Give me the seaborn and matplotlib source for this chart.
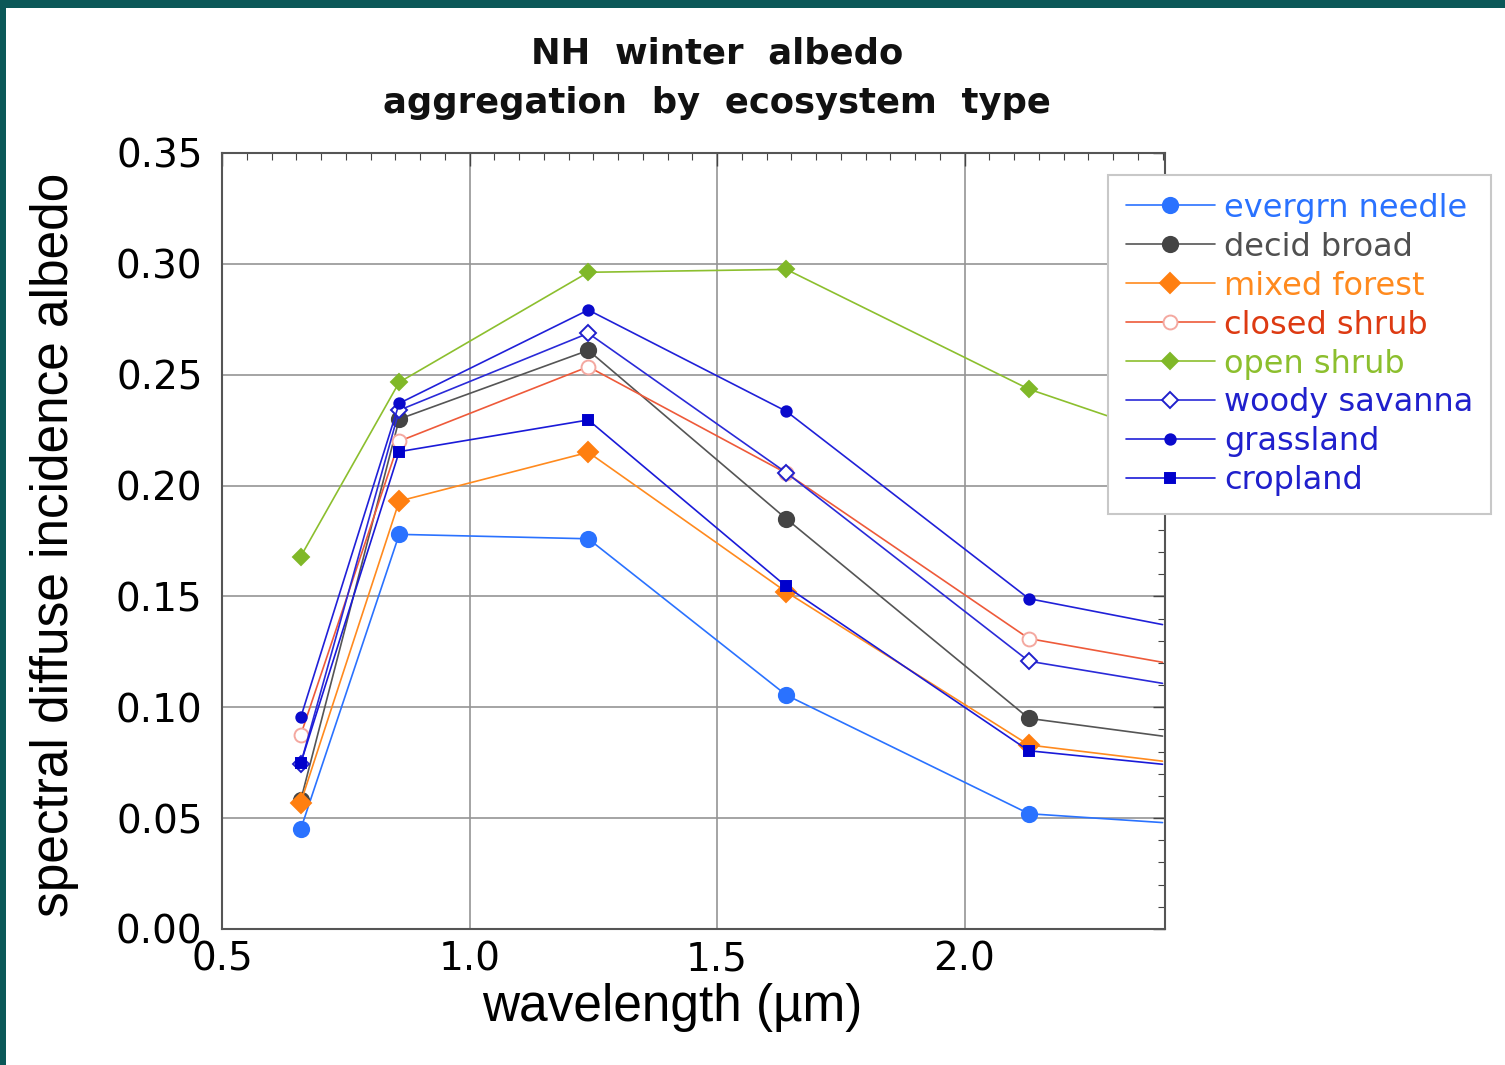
import numpy as np
import pandas as pd
import matplotlib
matplotlib.use("Agg")
import matplotlib.pyplot as plt
import seaborn as sns
from matplotlib.ticker import MultipleLocator, FormatStrFormatter
from matplotlib.patches import Rectangle

# ---------------- data ----------------
wavelength = [0.659, 0.858, 1.24, 1.64, 2.13, 2.40]
series_names = ["evergrn needle", "decid broad", "mixed forest", "closed shrub",
                "open shrub", "woody savanna", "grassland", "cropland"]
evergrn_needle = [0.045, 0.178, 0.176, 0.1055, 0.052, 0.048]
decid_broad = [0.058, 0.230, 0.261, 0.185, 0.095, 0.087]
mixed_forest = [0.057, 0.193, 0.215, 0.152, 0.083, 0.0757]
closed_shrub = [0.0875, 0.220, 0.2536, 0.2056, 0.131, 0.1203]
open_shrub = [0.168, 0.2466, 0.2962, 0.2975, 0.2435, 0.223]
woody_savanna = [0.0745, 0.234, 0.2687, 0.2058, 0.1208, 0.1108]
grassland = [0.0954, 0.2371, 0.2792, 0.2335, 0.149, 0.1373]
cropland = [0.0747, 0.2153, 0.2296, 0.1545, 0.0804, 0.0743]
values = [evergrn_needle, decid_broad, mixed_forest, closed_shrub,
          open_shrub, woody_savanna, grassland, cropland]

# ---------------- styles ----------------
line_colors = ["#2a72ff", "#555555", "#ff8a1e", "#ee5a3a", "#8cbf2e", "#2a2ad8", "#2020d8", "#1a1ad8"]
text_colors = ["#2a72ff", "#505050", "#ff8a1e", "#dd3a12", "#8cbf2e", "#2020cc", "#2020cc", "#2020cc"]
markers = ["o", "o", "D", "o", "D", "D", "o", "s"]
msizes = [11, 11, 10, 10, 8, 8, 7.5, 7.5]
mfaces = ["#2a72ff", "#444444", "#ff7f10", "white", "#80b828", "white", "#0a0acc", "#0000cc"]
medges = ["#2a72ff", "#444444", "#ff7f10", "#f4a8a0", "#80b828", "#2020cc", "#0a0acc", "#0000cc"]

sns.set_style("white")
plt.rcParams["font.family"] = ["Liberation Sans", "DejaVu Sans"]
plt.rcParams["text.color"] = "black"
plt.rcParams["axes.labelcolor"] = "black"

fig = plt.figure(figsize=(15.05, 10.65), dpi=100)
fig.patch.set_facecolor("white")
ax = fig.add_axes([222 / 1505, 1 - 929 / 1065, (1165 - 222) / 1505, (929 - 153) / 1065])

# teal frame at top and left
fig.patches.append(Rectangle((0, 1 - 8 / 1065), 1, 8 / 1065, transform=fig.transFigure,
                             facecolor="#0b5858", edgecolor="none", zorder=10))
fig.patches.append(Rectangle((0, 0), 6 / 1505, 1, transform=fig.transFigure,
                             facecolor="#0b5858", edgecolor="none", zorder=10))

for i, name in enumerate(series_names):
    df = pd.DataFrame({"wavelength": wavelength, "albedo": values[i]})
    sns.lineplot(data=df, x="wavelength", y="albedo", ax=ax, color=line_colors[i],
                 linewidth=1.2, marker=markers[i], markersize=msizes[i],
                 markerfacecolor=mfaces[i], markeredgecolor=medges[i], markeredgewidth=1.4,
                 markevery=[0, 1, 2, 3, 4], label=name, zorder=3 + i, legend=False)

ax.set_xlim(0.5, 2.405)
ax.set_ylim(0, 0.35)
ax.xaxis.set_major_locator(MultipleLocator(0.5))
ax.xaxis.set_minor_locator(MultipleLocator(0.05))
ax.yaxis.set_major_locator(MultipleLocator(0.05))
ax.yaxis.set_minor_locator(MultipleLocator(0.01))
ax.xaxis.set_major_formatter(FormatStrFormatter("%.1f"))
ax.yaxis.set_major_formatter(FormatStrFormatter("%.2f"))
ax.grid(True, which="major", color="#959595", linewidth=1.2)
ax.tick_params(which="both", direction="in", top=True, right=True, colors="#444444",
               labelcolor="black", labelsize=28)
ax.tick_params(which="major", length=9, width=1.0)
ax.tick_params(which="minor", length=5, width=0.8)
ax.tick_params(axis="x", which="major", pad=8)
ax.tick_params(axis="y", which="major", pad=14)
for lab in ax.get_xticklabels() + ax.get_yticklabels():
    lab.set_fontfamily("DejaVu Sans")
for s in ax.spines.values():
    s.set_color("#555555")
    s.set_linewidth(1.5)

ax.set_xlabel("wavelength (µm)", fontsize=37)
ax.xaxis.set_label_coords((672 - 222) / 943, (929 - 1008) / 776)
ax.xaxis.label.set_va("center")
ax.set_ylabel("spectral diffuse incidence albedo", fontsize=37)
ax.yaxis.set_label_coords((55 - 222) / 943, (929 - 545) / 776)
ax.yaxis.label.set_va("center")

fig.text(717 / 1505, 1 - 53 / 1065, "NH  winter  albedo", ha="center", va="center",
         fontsize=25.5, fontweight="bold", family="DejaVu Sans", color="#111111")
fig.text(717 / 1505, 1 - 103 / 1065, "aggregation  by  ecosystem  type", ha="center", va="center",
         fontsize=25.5, fontweight="bold", family="DejaVu Sans", color="#111111")

handles, labels = ax.get_legend_handles_labels()
leg = ax.legend(handles, labels, loc="upper left",
                bbox_to_anchor=(1108 / 1505, 1 - 175 / 1065), bbox_transform=fig.transFigure,
                prop={"family": "DejaVu Sans", "size": 23}, frameon=True, fancybox=False,
                framealpha=1, edgecolor="#c8c8c8", handlelength=2.8, handletextpad=0.28,
                labelspacing=0.25, borderpad=0.55, borderaxespad=0)
leg.get_frame().set_linewidth(1.5)
leg.set_zorder(20)
for t, c in zip(leg.get_texts(), text_colors):
    t.set_color(c)

fig.savefig("out.png", dpi=100, facecolor="white")
